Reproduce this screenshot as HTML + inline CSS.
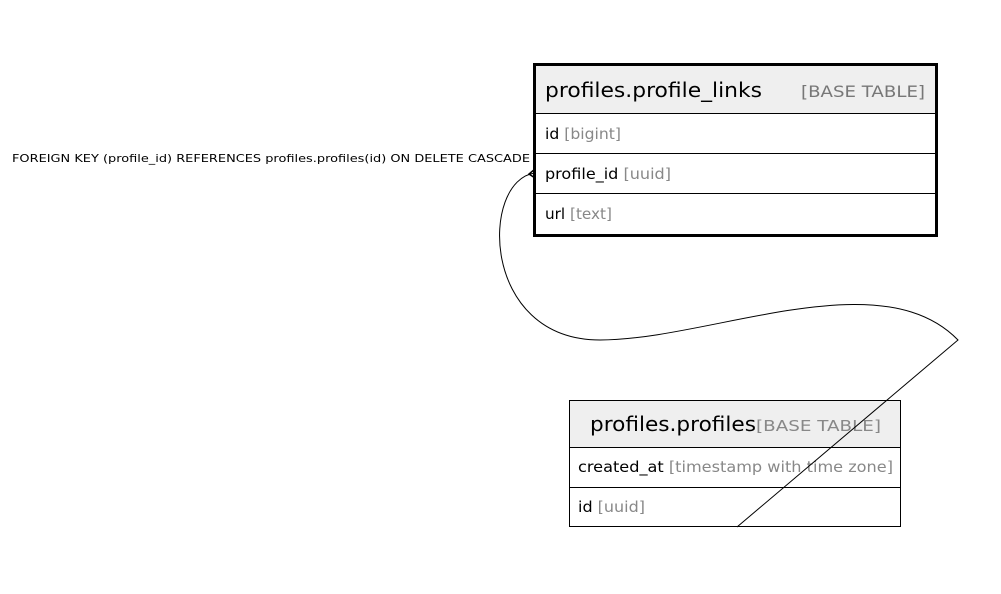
<!DOCTYPE html>
<html><head><meta charset="utf-8"><style>
body{margin:0;background:#fff;}
svg text{font-family:"DejaVu Sans","Liberation Sans",sans-serif;}
</style></head><body>
<svg width="1001" height="589" viewBox="0 0 1001 589" xmlns="http://www.w3.org/2000/svg">
<rect width="1001" height="589" fill="#fff"/>
<text x="12" y="162" font-size="11" font-family="Liberation Sans" fill="#000" textLength="518" lengthAdjust="spacingAndGlyphs">FOREIGN KEY (profile_id) REFERENCES profiles.profiles(id) ON DELETE CASCADE</text>
<!-- table 1 -->
<rect x="534.5" y="64.5" width="402" height="171" fill="#fff" stroke="#000" stroke-width="3"/>
<rect x="536" y="66" width="399" height="47" fill="#efefef"/>
<line x1="535" y1="113.5" x2="936" y2="113.5" stroke="#000" stroke-width="1"/>
<line x1="535" y1="153.5" x2="936" y2="153.5" stroke="#000" stroke-width="1"/>
<line x1="535" y1="193.5" x2="936" y2="193.5" stroke="#000" stroke-width="1"/>
<text x="545" y="97" font-size="20" fill="#000" textLength="217" lengthAdjust="spacingAndGlyphs">profiles.profile_links</text>
<text x="801" y="97" font-size="16" fill="#777" textLength="124" lengthAdjust="spacingAndGlyphs">[BASE TABLE]</text>
<text x="545" y="139" font-size="15" textLength="76" lengthAdjust="spacingAndGlyphs"><tspan fill="#000">id</tspan><tspan fill="#888"> [bigint]</tspan></text>
<text x="545" y="179" font-size="15" textLength="126" lengthAdjust="spacingAndGlyphs"><tspan fill="#000">profile_id</tspan><tspan fill="#888"> [uuid]</tspan></text>
<text x="545" y="219" font-size="15" textLength="67" lengthAdjust="spacingAndGlyphs"><tspan fill="#000">url</tspan><tspan fill="#888"> [text]</tspan></text>
<!-- table 2 -->
<rect x="569.5" y="400.5" width="331" height="126" fill="#fff" stroke="#000" stroke-width="1"/>
<rect x="570" y="401" width="330" height="46" fill="#efefef"/>
<line x1="570" y1="447.5" x2="900" y2="447.5" stroke="#000"/>
<line x1="570" y1="487.5" x2="900" y2="487.5" stroke="#000"/>
<text x="590" y="431" font-size="20" fill="#000" textLength="166" lengthAdjust="spacingAndGlyphs">profiles.profiles</text>
<text x="756" y="431" font-size="15" fill="#888" textLength="125" lengthAdjust="spacingAndGlyphs">[BASE TABLE]</text>
<text x="578" y="472" font-size="15" textLength="315" lengthAdjust="spacingAndGlyphs"><tspan fill="#000">created_at</tspan><tspan fill="#888"> [timestamp with time zone]</tspan></text>
<text x="578" y="512" font-size="15" textLength="67" lengthAdjust="spacingAndGlyphs"><tspan fill="#000">id</tspan><tspan fill="#888"> [uuid]</tspan></text>
<!-- connector -->
<path d="M535,173 C480,180 480,340 600,340 C710,340 880,260 958,340 L737,527" fill="none" stroke="#000" stroke-width="1"/>
<path d="M535,169 L529,174 L535,178" fill="none" stroke="#000" stroke-width="1.5"/>
</svg>
</body></html>
